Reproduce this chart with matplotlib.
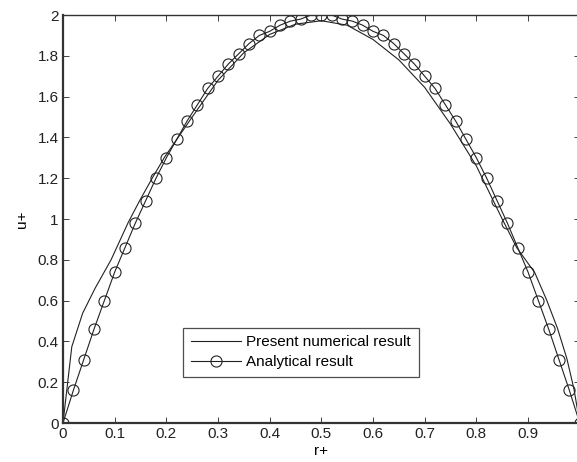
import numpy as np
import matplotlib
matplotlib.use("Agg")
from matplotlib import pyplot as plt

# numerical solution
r_num = [0, 0.017, 0.038, 0.062, 0.093, 0.126, 0.149, 0.1735, 0.197, 0.25,
         0.3, 0.35, 0.4, 0.45, 0.5, 0.55, 0.6, 0.65, 0.7, 0.75, 0.8, 0.85,
         0.878, 0.913, 0.936, 0.957, 0.975, 0.989, 1.0]
u_num = [0, 0.374, 0.538, 0.66, 0.8, 0.982, 1.093, 1.204, 1.305, 1.50,
         1.68, 1.815, 1.905, 1.955, 1.972, 1.95, 1.88, 1.78, 1.645, 1.465, 1.26, 1.0,
         0.86, 0.737, 0.603, 0.464, 0.317, 0.165, 0]

# analytical result, markers every 0.02
r_ana = np.linspace(0, 1, 51)
u_ana = [0, 0.16, 0.31, 0.46, 0.60, 0.74, 0.86, 0.98, 1.09, 1.20,
         1.30, 1.39, 1.48, 1.56, 1.64, 1.70, 1.76, 1.81, 1.86, 1.90,
         1.92, 1.95, 1.97, 1.98, 2.0, 2.0, 2.0, 1.98, 1.97, 1.95,
         1.92, 1.90, 1.86, 1.81, 1.76, 1.70, 1.64, 1.56, 1.48, 1.39,
         1.30, 1.20, 1.09, 0.98, 0.86, 0.74, 0.60, 0.46, 0.31, 0.16, 0]

xticks = [0, 0.1, 0.2, 0.3, 0.4, 0.5, 0.6, 0.7, 0.8, 0.9]
yticks = [0, 0.2, 0.4, 0.6, 0.8, 1, 1.2, 1.4, 1.6, 1.8, 2]

plt.rcParams["font.family"] = ["Liberation Sans", "DejaVu Sans"]
plt.rcParams["font.size"] = 11

fig = plt.figure(figsize=(5.77, 4.62), dpi=100)
ax = fig.add_axes([0.1092, 0.0844, 0.8955, 0.8831])

ax.plot(r_num, u_num, color="#222222", lw=0.8, label="Present numerical result")
ax.plot(r_ana, u_ana, color="#222222", lw=0.8, marker="o", ms=8,
        mfc="none", mec="#222222", mew=0.8, label="Analytical result")

ax.set_xlim(0, 1)
ax.set_ylim(0, 2)
ax.set_xticks(xticks)
ax.set_xticklabels(["%g" % t for t in xticks])
ax.set_yticks(yticks)
ax.set_yticklabels(["%g" % t for t in yticks])
ax.tick_params(direction="in", top=True, right=True, length=4, width=0.6,
               colors="#222222", pad=3)
for s in ax.spines.values():
    s.set_color("#333333")
    s.set_linewidth(1.0)
ax.spines["left"].set_linewidth(1.6)
ax.spines["bottom"].set_linewidth(1.6)

ax.set_xlabel("r+", labelpad=2)
ax.set_ylabel("u+", labelpad=6)

leg = ax.legend(loc="upper left", bbox_to_anchor=(0.317, 0.2907),
                bbox_transform=fig.transFigure, borderaxespad=0,
                fancybox=False, frameon=True, handlelength=3.3,
                handletextpad=0.35, borderpad=0.5, labelspacing=0.4)
leg.get_frame().set_edgecolor("#222222")
leg.get_frame().set_linewidth(0.9)

plt.savefig("out.png", dpi=100)
